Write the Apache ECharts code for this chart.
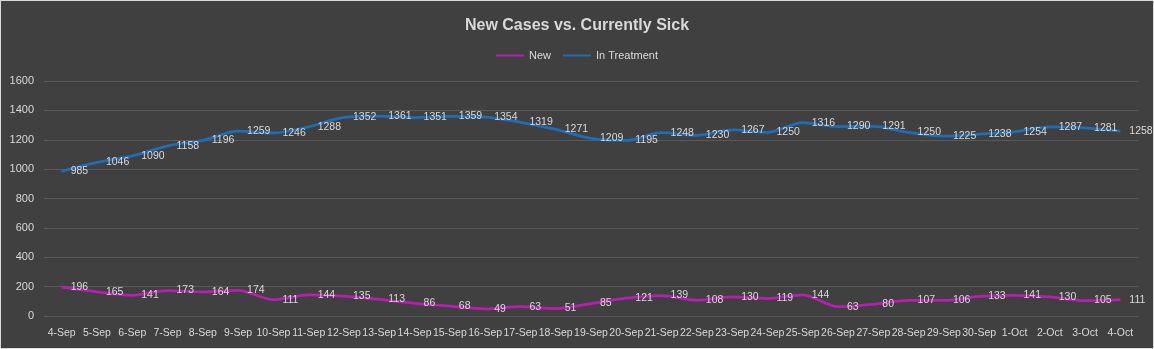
<!DOCTYPE html>
<html><head><meta charset="utf-8">
<script src="https://cdn.jsdelivr.net/npm/echarts@6/dist/echarts.min.js"></script>
<style>html,body{margin:0;padding:0;background:#404040;}#c{width:1152px;height:347px;border:1px solid #d9d9d9;}</style>
</head><body><div id="c"></div>
<script>
const categories = ['4-Sep','5-Sep','6-Sep','7-Sep','8-Sep','9-Sep','10-Sep','11-Sep','12-Sep','13-Sep','14-Sep','15-Sep','16-Sep','17-Sep','18-Sep','19-Sep','20-Sep','21-Sep','22-Sep','23-Sep','24-Sep','25-Sep','26-Sep','27-Sep','28-Sep','29-Sep','30-Sep','1-Oct','2-Oct','3-Oct','4-Oct'];
const newCases = [196,165,141,173,164,174,111,144,135,113,86,68,49,63,51,85,121,139,108,130,119,144,63,80,107,106,133,141,130,105,111];
const inTreatment = [985,1046,1090,1158,1196,1259,1246,1288,1352,1361,1351,1359,1354,1319,1271,1209,1195,1248,1230,1267,1250,1316,1290,1291,1250,1225,1238,1254,1287,1281,1258];
const yTicks = {min:0, max:1600, interval:200};

const font = 'Liberation Sans';
const fs = 10.5;
const chart = echarts.init(document.getElementById('c'));
const lbl = {show:true, position:'right', distance:9, color:'#d9d9d9', fontSize:fs, fontFamily:font};
chart.setOption({
  backgroundColor:'#404040',
  animation:false,
  title:{text:'New Cases vs. Currently Sick', left:'center', top:12,
    textStyle:{color:'#d9d9d9', fontSize:16, fontWeight:'bold', fontFamily:font}},
  legend:{top:44, left:'center', itemWidth:28, itemHeight:2, itemGap:12, icon:'rect',
    textStyle:{color:'#d9d9d9', fontSize:11, fontFamily:font},
    data:['New','In Treatment']},
  grid:{left:43, right:15, top:80, bottom:32},
  xAxis:{type:'category', data:categories, boundaryGap:true,
    axisLine:{show:false}, axisTick:{show:false},
    axisLabel:{color:'#d9d9d9', fontSize:fs, fontFamily:font, interval:0, margin:12}},
  yAxis:{type:'value', min:yTicks.min, max:yTicks.max, interval:yTicks.interval,
    axisLine:{show:false}, axisTick:{show:false},
    axisLabel:{color:'#d9d9d9', fontSize:11, fontFamily:font, margin:10, align:'right', formatter:v=>String(v)},
    splitLine:{lineStyle:{color:'#595959', width:1}}},
  series:[
    {name:'New', type:'line', data:newCases, smooth:0.3, showSymbol:true, symbol:'circle', symbolSize:0,
      lineStyle:{color:'#b520b0', width:2.75}, itemStyle:{color:'#b520b0'}, label:lbl},
    {name:'In Treatment', type:'line', data:inTreatment, smooth:0.3, showSymbol:true, symbol:'circle', symbolSize:0,
      lineStyle:{color:'#1f6db5', width:2.75}, itemStyle:{color:'#1f6db5'}, label:lbl}
  ]
});
</script></body></html>
